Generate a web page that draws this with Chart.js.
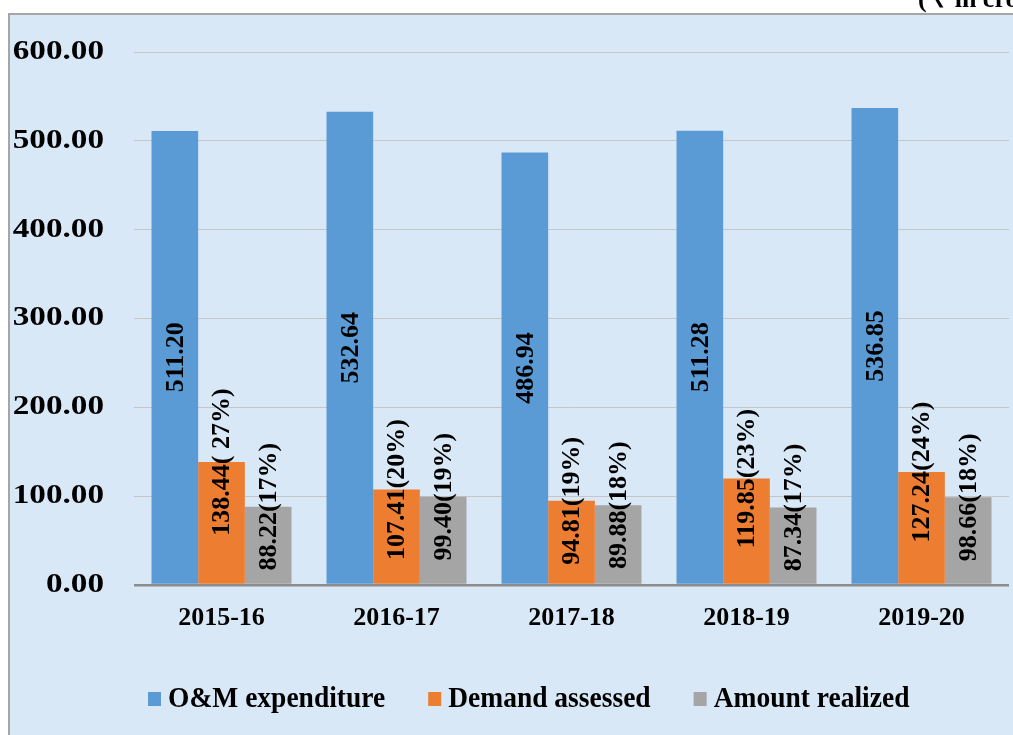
<!DOCTYPE html>
<html>
<head>
<meta charset="utf-8">
<script src="https://cdn.jsdelivr.net/npm/chart.js@4/dist/chart.umd.min.js"></script>
<style>
  html, body { margin: 0; padding: 0; background: #ffffff; }
  #wrap { position: relative; width: 1013px; height: 735px; }
</style>
</head>
<body>
<div id="wrap"><canvas id="c" width="1013" height="735"></canvas></div>
<script>
const categories = ['2015-16', '2016-17', '2017-18', '2018-19', '2019-20'];
const seriesNames = ['O&M expenditure', 'Demand assessed', 'Amount realized'];
const omExpenditure = [511.20, 532.64, 486.94, 511.28, 536.85];
const demandAssessed = [138.44, 107.41, 94.81, 119.85, 127.24];
const amountRealized = [88.22, 99.40, 89.88, 87.34, 98.66];
const demandPercent = ['( 27%)', '(20%)', '(19%)', '(23%)', '(24%)'];
const realizedPercent = ['(17%)', '(19%)', '(18%)', '(17%)', '(18%)'];
const yTickValues = [0, 100, 200, 300, 400, 500, 600];
const unitNote = '( ₹ in crore)';

const colors = ['#5b9bd5', '#ed7d31', '#a5a5a5'];
const SERIF = '"Liberation Serif", "Times New Roman", serif';

const framePlugin = {
  id: 'frame',
  beforeDraw(chart) {
    const ctx = chart.ctx;
    ctx.save();
    ctx.fillStyle = '#ffffff';
    ctx.fillRect(0, 0, chart.width, chart.height);
    ctx.fillStyle = '#d9e8f6';
    ctx.fillRect(8, 14, chart.width - 8, chart.height - 14);
    ctx.strokeStyle = '#a6a6a6';
    ctx.lineWidth = 2;
    ctx.beginPath();
    ctx.moveTo(9, chart.height);
    ctx.lineTo(9, 14);
    ctx.lineTo(chart.width, 14);
    ctx.stroke();
    // unit note (cut at the top edge)
    ctx.fillStyle = '#000';
    ctx.font = 'bold 26px ' + SERIF;
    ctx.textAlign = 'left';
    ctx.textBaseline = 'alphabetic';
    ctx.fillText(unitNote, 918, 7);
    ctx.restore();
  },
  afterDraw(chart) {
    const ctx = chart.ctx;
    const ys = chart.scales.y;
    ctx.save();
    ctx.fillStyle = '#000';
    // y tick labels, right aligned, slightly widened
    ctx.font = 'bold 27px ' + SERIF;
    ctx.textAlign = 'right';
    ctx.textBaseline = 'middle';
    yTickValues.forEach(v => {
      const py = ys.getPixelForValue(v);
      ctx.save();
      ctx.translate(104, py);
      ctx.scale(1.23, 1);
      ctx.fillText(v.toFixed(2), 0, 0);
      ctx.restore();
    });
    // legend
    ctx.font = 'bold 27.5px ' + SERIF;
    ctx.textAlign = 'left';
    ctx.textBaseline = 'alphabetic';
    let x = 148;
    chart.data.datasets.forEach((ds, i) => {
      ctx.fillStyle = ds.backgroundColor;
      ctx.fillRect(x, 692, 13, 14);
      ctx.fillStyle = '#000';
      const tx = x + 20;
      ctx.save();
      ctx.translate(tx, 707);
      ctx.scale(1, 1.08);
      ctx.fillText(ds.label, 0, 0);
      ctx.restore();
      x = tx + ctx.measureText(ds.label).width + 43;
    });
    ctx.restore();
  }
};

const labelPlugin = {
  id: 'barLabels',
  afterDatasetsDraw(chart) {
    const ctx = chart.ctx;
    ctx.save();
    ctx.fillStyle = '#000';
    ctx.font = 'bold 26px ' + SERIF;
    ctx.textBaseline = 'middle';
    ctx.textAlign = 'center';
    chart.data.datasets.forEach((ds, di) => {
      const meta = chart.getDatasetMeta(di);
      meta.data.forEach((bar, i) => {
        let text, cy;
        if (di === 0) {
          text = omExpenditure[i].toFixed(2);
          cy = (bar.y + bar.base) / 2;
        } else if (di === 1) {
          text = demandAssessed[i].toFixed(2) + demandPercent[i];
          cy = bar.y;
        } else {
          text = amountRealized[i].toFixed(2) + realizedPercent[i];
          cy = bar.y;
        }
        ctx.save();
        ctx.translate(bar.x + 1, cy);
        ctx.rotate(-Math.PI / 2);
        ctx.fillText(text, 0, 0);
        ctx.restore();
      });
    });
    ctx.restore();
  }
};

new Chart(document.getElementById('c'), {
  type: 'bar',
  data: {
    labels: categories,
    datasets: [
      { label: seriesNames[0], data: omExpenditure, backgroundColor: colors[0] },
      { label: seriesNames[1], data: demandAssessed, backgroundColor: colors[1] },
      { label: seriesNames[2], data: amountRealized, backgroundColor: colors[2] }
    ]
  },
  options: {
    responsive: false,
    animation: false,
    devicePixelRatio: 1,
    layout: { padding: { top: 52, right: 4, bottom: 72, left: 0 } },
    datasets: { bar: { categoryPercentage: 0.8, barPercentage: 1.0 } },
    scales: {
      x: {
        grid: { display: false, drawTicks: false },
        border: { display: false },
        ticks: { color: '#000', font: { family: SERIF, size: 26, weight: 'bold' }, padding: 18, maxRotation: 0 },
        afterFit(s) { s.height = 78; }
      },
      y: {
        min: 0, max: 600,
        afterBuildTicks(s) { s.ticks = yTickValues.map(v => ({ value: v })); },
        grid: {
          drawTicks: false,
          color: ctx => ctx.tick && ctx.tick.value === 0 ? '#8c8c8c' : '#c6c6c6',
          lineWidth: ctx => ctx.tick && ctx.tick.value === 0 ? 2.5 : 1
        },
        border: { display: false },
        ticks: { display: false },
        afterFit(s) { s.width = 134; }
      }
    },
    plugins: {
      legend: { display: false },
      tooltip: { enabled: false }
    }
  },
  plugins: [framePlugin, labelPlugin]
});
</script>
</body>
</html>
